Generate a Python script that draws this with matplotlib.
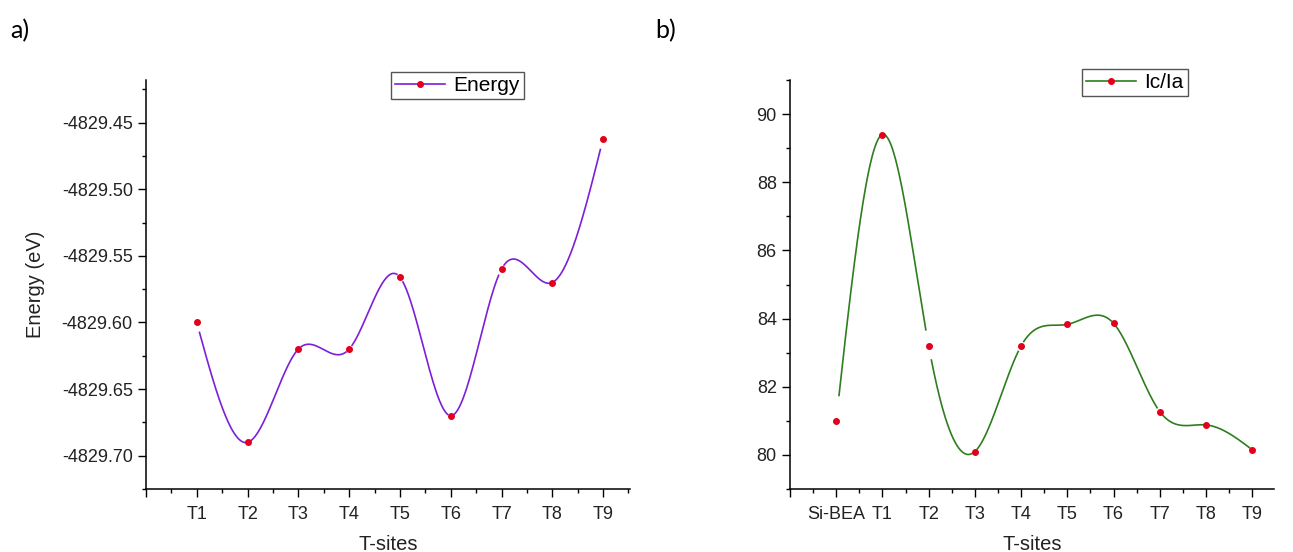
import numpy as np
import matplotlib
matplotlib.use("Agg")
import matplotlib.pyplot as plt
from matplotlib.lines import Line2D
from matplotlib.ticker import MultipleLocator, FormatStrFormatter, FixedLocator

plt.rcParams['font.family'] = ['Liberation Sans', 'DejaVu Sans']

# energies per T-site (eV)
sites_a = ["T1", "T2", "T3", "T4", "T5", "T6", "T7", "T8", "T9"]
energy = [-4829.600, -4829.690, -4829.620, -4829.620, -4829.566,
          -4829.670, -4829.560, -4829.570, -4829.462]

# crystallinity ratio Ic/Ia
sites_b = ["Si-BEA", "T1", "T2", "T3", "T4", "T5", "T6", "T7", "T8", "T9"]
ratio = [81.0, 89.4, 83.2, 80.1, 83.2, 83.83, 83.86, 81.27, 80.88, 80.15]

purple = '#7d1fd8'
green = '#2e7d1e'
red = '#e4001b'


def natural_spline(x, y, n=600):
    # natural cubic spline through the points
    x = np.asarray(x, float)
    y = np.asarray(y, float)
    k = len(x)
    h = np.diff(x)
    A = np.zeros((k, k))
    b = np.zeros(k)
    A[0, 0] = A[-1, -1] = 1
    for i in range(1, k - 1):
        A[i, i - 1] = h[i - 1]
        A[i, i] = 2 * (h[i - 1] + h[i])
        A[i, i + 1] = h[i]
        b[i] = 6 * ((y[i + 1] - y[i]) / h[i] - (y[i] - y[i - 1]) / h[i - 1])
    M = np.linalg.solve(A, b)
    xs = np.linspace(x[0], x[-1], n)
    idx = np.clip(np.searchsorted(x, xs) - 1, 0, k - 2)
    t0 = xs - x[idx]
    t1 = x[idx + 1] - xs
    hi = h[idx]
    ys = (M[idx] * t1**3 + M[idx + 1] * t0**3) / (6 * hi) \
        + (y[idx] / hi - M[idx] * hi / 6) * t1 \
        + (y[idx + 1] / hi - M[idx + 1] * hi / 6) * t0
    return xs, ys


def draw(ax, x, y, color, gap=0.05):
    xs, ys = natural_spline(x, y)
    # leave a small gap around every symbol
    near = np.min(np.abs(xs[:, None] - np.asarray(x)[None, :]), axis=1) < gap
    ys = np.where(near, np.nan, ys)
    ax.plot(xs, ys, color=color, lw=1.2)
    ax.plot(x, y, 'o', color=red, ms=4, mec=red)


def style(ax):
    ax.spines['top'].set_visible(False)
    ax.spines['right'].set_visible(False)
    ax.tick_params(which='major', direction='out', length=6, width=1, labelsize=13)
    ax.tick_params(which='minor', direction='out', length=3, width=1)
    ax.tick_params(axis='x', pad=6)
    for s in ('left', 'bottom'):
        ax.spines[s].set_linewidth(1.1)
    ax.set_xlabel("T-sites", fontsize=14.5, color='#222222', labelpad=9)
    for lbl in ax.get_xticklabels() + ax.get_yticklabels():
        lbl.set_color('#222222')


fig = plt.figure(figsize=(12.93, 5.52), dpi=100)

# a) energy
ax1 = fig.add_axes([146 / 1293, 63 / 552, 484 / 1293, 409 / 552])
xa = np.arange(1, len(sites_a) + 1)
draw(ax1, xa, energy, purple)
ax1.set_xlim(0, 9.53)
ax1.set_ylim(-4829.725, -4829.418)
ax1.xaxis.set_major_locator(FixedLocator(np.arange(0, len(sites_a) + 1)))
ax1.set_xticklabels([""] + sites_a)
ax1.xaxis.set_minor_locator(FixedLocator(np.arange(0.5, len(sites_a) + 1, 1)))
ax1.yaxis.set_major_locator(MultipleLocator(0.05))
ax1.yaxis.set_minor_locator(MultipleLocator(0.025))
ax1.yaxis.set_major_formatter(FormatStrFormatter('%.2f'))
ax1.set_ylabel("Energy (eV)", fontsize=14.5, color='#222222', labelpad=12)
style(ax1)
h1 = Line2D([], [], color=purple, lw=1.2, marker='o', ms=4, mfc=red, mec=red)
ax1.legend([h1], ["Energy"], loc='upper left', bbox_to_anchor=(391 / 1293, 1 - 72 / 552),
           bbox_transform=fig.transFigure, fontsize=15, fancybox=False,
           edgecolor='#555555', framealpha=1, handlelength=2.4, borderpad=0.2,
           handletextpad=0.4, borderaxespad=0)

# b) Ic/Ia
ax2 = fig.add_axes([790 / 1293, 63 / 552, 484 / 1293, 409 / 552])
xb = np.arange(0, len(sites_b))
draw(ax2, xb, ratio, green)
ax2.set_xlim(-1, 9.47)
ax2.set_ylim(79, 91)
ax2.xaxis.set_major_locator(FixedLocator(np.arange(-1, len(sites_b))))
ax2.set_xticklabels([""] + sites_b)
ax2.xaxis.set_minor_locator(FixedLocator(np.arange(-0.5, len(sites_b), 1)))
ax2.yaxis.set_major_locator(MultipleLocator(2))
ax2.yaxis.set_minor_locator(MultipleLocator(1))
style(ax2)
h2 = Line2D([], [], color=green, lw=1.2, marker='o', ms=4, mfc=red, mec=red)
ax2.legend([h2], ["Ic/Ia"], loc='upper left', bbox_to_anchor=(1082 / 1293, 1 - 69 / 552),
           bbox_transform=fig.transFigure, fontsize=15, fancybox=False,
           edgecolor='#555555', framealpha=1, handlelength=2.4, borderpad=0.2,
           handletextpad=0.4, borderaxespad=0)

fig.text(10 / 1293, 1 - 38 / 552, "a)", fontsize=18, family=['Lato', 'DejaVu Sans'])
fig.text(655 / 1293, 1 - 38 / 552, "b)", fontsize=18, family=['Lato', 'DejaVu Sans'])

fig.savefig("out.png", dpi=100)
